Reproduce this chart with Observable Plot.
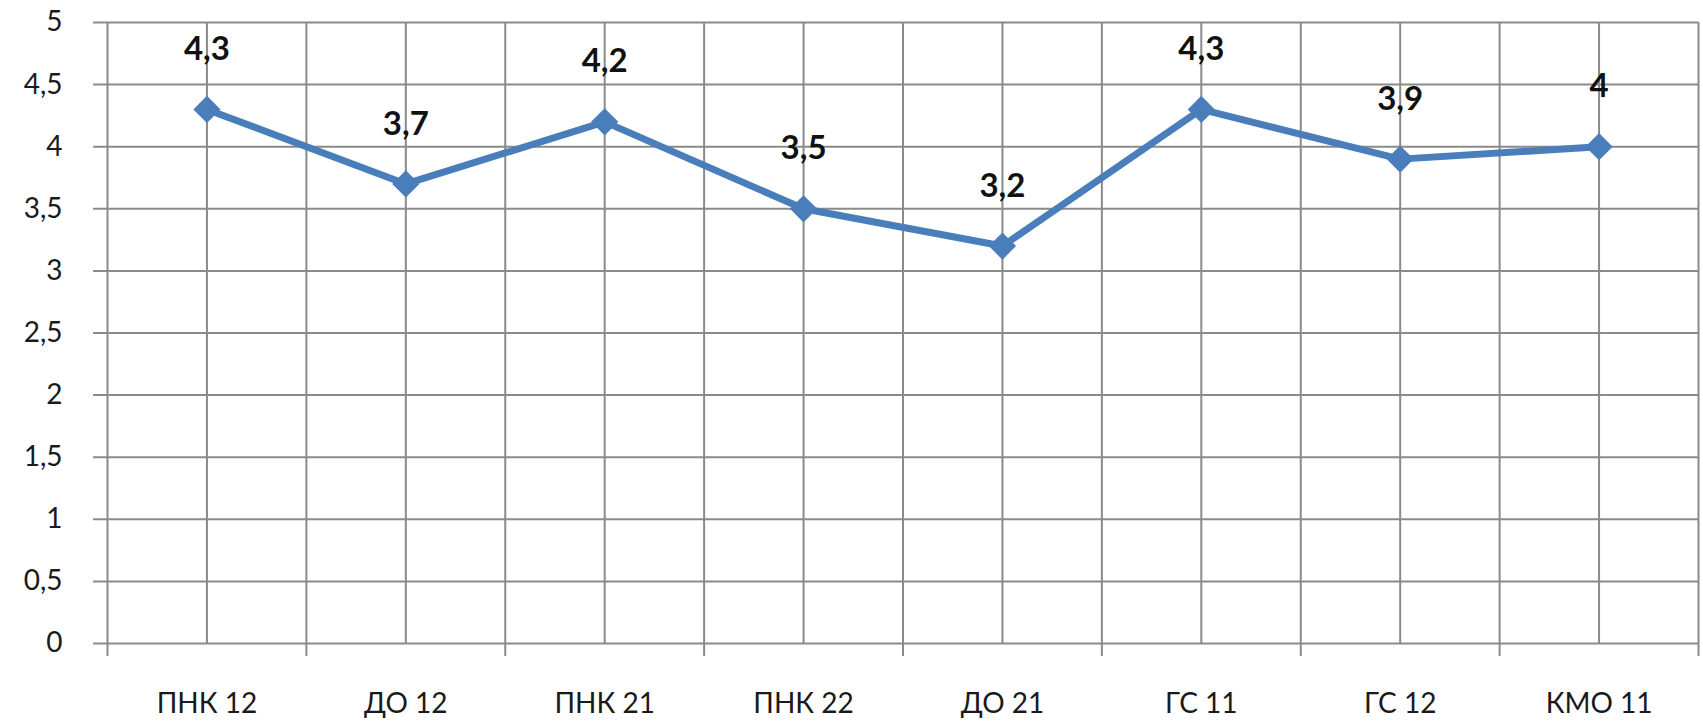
<!DOCTYPE html>
<html>
<head>
<meta charset="utf-8">
<script src="https://cdn.jsdelivr.net/npm/d3@7"></script>
<script src="https://cdn.jsdelivr.net/npm/@observablehq/plot@0.6"></script>
<style>
  html, body { margin: 0; padding: 0; background: #fff; }
  #chart svg { display: block; }
</style>
</head>
<body>
<div id="chart"></div>
<script>
const categories = ["ПНК 12", "ДО 12", "ПНК 21", "ПНК 22", "ДО 21", "ГС 11", "ГС 12", "КМО 11"];
const values = [4.3, 3.7, 4.2, 3.5, 3.2, 4.3, 3.9, 4];
const yTicks = [0, 0.5, 1, 1.5, 2, 2.5, 3, 3.5, 4, 4.5, 5];

const data = categories.map((c, i) => ({cat: c, pos: i + 0.5, value: values[i]}));
const boundaries = d3.range(0, categories.length + 1);
const halfGrid = d3.range(0, categories.length * 2 + 1).map(d => d / 2);
const fmt = v => String(v).replace(".", ",");

const font = "Lato, 'Open Sans', sans-serif";
const gridColor = "#8a8a8a";
const lineColor = "#4a7ebb";

const chart = Plot.plot({
  width: 1703,
  height: 728,
  marginTop: 22,
  marginBottom: 85,
  marginLeft: 107,
  marginRight: 5,
  style: {fontFamily: font, background: "#fff", color: "#1a1a1a"},
  x: {type: "linear", domain: [0, categories.length], label: null},
  y: {type: "linear", domain: [0, 5], label: null},
  marks: [
    Plot.ruleX(halfGrid, {x: d => d, stroke: gridColor, strokeWidth: 2}),
    Plot.ruleY(yTicks, {y: d => d, x1: -0.07, x2: categories.length, stroke: gridColor, strokeWidth: 2}),
    Plot.axisX({ticks: boundaries, tickFormat: () => "", tickSize: 13, stroke: gridColor, strokeWidth: 2, strokeOpacity: 1, label: null}),
    Plot.axisY({ticks: yTicks, tickFormat: fmt, tickSize: 0, tickPadding: 45, fontSize: 28, label: null}),
    Plot.axisX({ticks: data.map(d => d.pos), tickFormat: (d, i) => categories[i], tickSize: 0, tickPadding: 50, fontSize: 28, label: null}),
    Plot.line(data, {x: "pos", y: "value", stroke: lineColor, strokeWidth: 7, strokeLinejoin: "round"}),
    Plot.dot(data, {x: "pos", y: "value", symbol: "diamond2", r: 11, fill: lineColor, stroke: lineColor, strokeWidth: 2}),
    Plot.text(data, {x: "pos", y: "value", text: d => fmt(d.value), dy: -60, fontSize: 33, fontWeight: "bold", fill: "#111"})
  ]
});
document.getElementById("chart").appendChild(chart);
</script>
</body>
</html>
